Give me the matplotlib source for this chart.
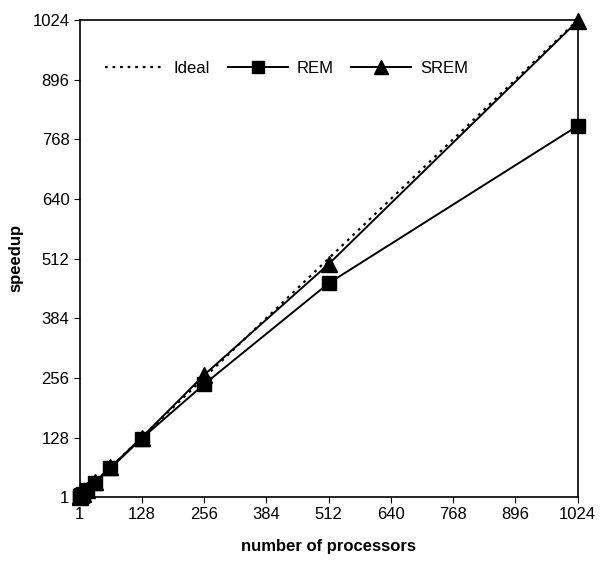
import matplotlib
matplotlib.use('Agg')
import matplotlib.pyplot as plt

plt.rcParams['font.family'] = ['Liberation Sans', 'DejaVu Sans']

procs = [1, 2, 4, 8, 16, 32, 64, 128, 256, 512, 1024]
ideal = [1, 1024]
ideal_x = [1, 1024]
rem = [1, 2, 4, 8, 16, 31, 62, 126, 242, 459, 797]
srem = [1, 2, 4, 8, 16, 32, 64, 128, 262, 500, 1022]
ticks = [1, 128, 256, 384, 512, 640, 768, 896, 1024]

fig = plt.figure(figsize=(6, 5.71), dpi=100)
ax = fig.add_axes([0.133, 0.13, 0.83, 0.835])

ax.plot(ideal_x, ideal, color='black', linestyle=(0, (1.2, 2.2)), linewidth=1.6, label='Ideal')
ax.plot(procs, rem, color='black', linewidth=1.4, marker='s', markersize=10,
        label='REM', clip_on=False)
ax.plot(procs, srem, color='black', linewidth=1.4, marker='^', markersize=11,
        label='SREM', clip_on=False)

ax.set_xlim(1, 1024)
ax.set_ylim(1, 1024)
ax.set_xticks(ticks)
ax.set_yticks(ticks)
ax.tick_params(labelsize=12, direction='out', length=4)
for s in ax.spines.values():
    s.set_linewidth(1.2)

ax.set_xlabel('number of processors', fontsize=12, fontweight='bold', labelpad=12)
ax.set_ylabel('speedup', fontsize=12, fontweight='bold', labelpad=6)

ax.legend(loc='upper left', bbox_to_anchor=(0.02, 0.945), ncol=3, frameon=False,
          fontsize=12, handlelength=3.6, columnspacing=1.1, handletextpad=0.5,
          markerscale=0.9)

fig.savefig('out.png')
